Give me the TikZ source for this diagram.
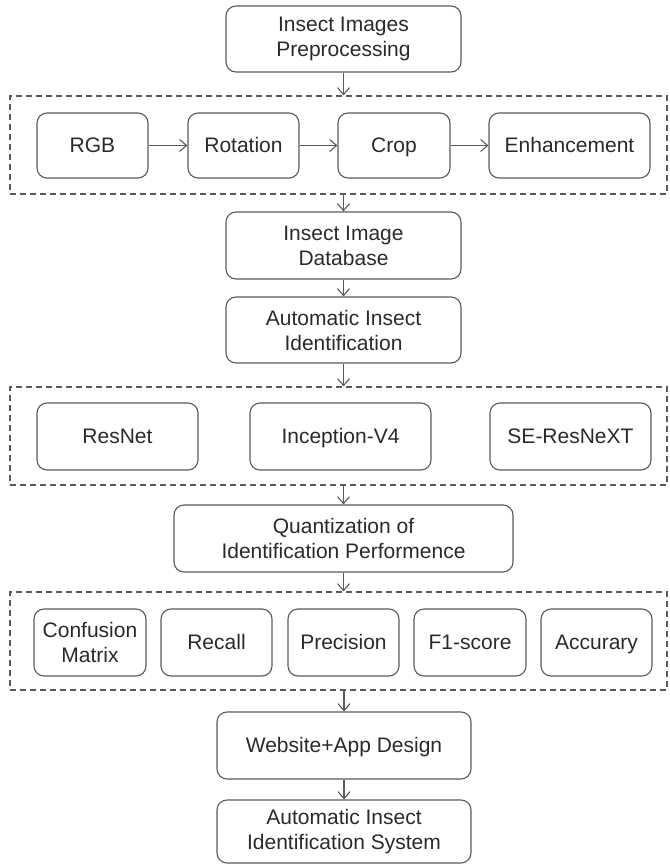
\documentclass[tikz,border=0pt]{standalone}
\usepackage{fontspec}
\setmainfont{Liberation Sans}
\usetikzlibrary{arrows.meta}
\definecolor{linegray}{HTML}{5A5A5A}
\definecolor{textgray}{HTML}{2A2A2A}
\tikzset{
  box/.style={draw=linegray, line width=1.1pt, rounded corners=10pt, align=center,
    inner sep=0pt, text=textgray, font=\fontsize{21}{25}\selectfont},
  single/.style={text height=14pt, text depth=1pt},
  dashbox/.style={draw=linegray, line width=1.1pt, dash pattern=on 6pt off 4pt, inner sep=0pt},
  arr/.style={draw=linegray, line width=1.1pt, -{Straight Barb[length=7pt,width=12pt]}}
}
\begin{document}
\begin{tikzpicture}[x=1pt,y=-1pt]
\useasboundingbox (0,0) rectangle (669,864);
% top
\node[box, minimum width=235pt, minimum height=66pt] (pre) at (343.5,39) {Insect Images\\Preprocessing};
% dashed group 1
\node[dashbox, minimum width=657pt, minimum height=98pt] (d1) at (338.5,145) {};
\node[box, single, minimum width=111pt, minimum height=65pt] (rgb) at (92.5,145.5) {RGB};
\node[box, single, minimum width=111pt, minimum height=65pt] (rot) at (243.5,145.5) {Rotation};
\node[box, single, minimum width=112pt, minimum height=65pt] (crop) at (394,145.5) {Crop};
\node[box, single, minimum width=161pt, minimum height=65pt] (enh) at (569.5,145.5) {Enhancement};
% database
\node[box, minimum width=235pt, minimum height=67pt] (db) at (343.5,245.5) {Insect Image\\Database};
\node[box, minimum width=235pt, minimum height=66pt] (auto) at (343.5,330) {Automatic Insect\\Identification};
% dashed group 2
\node[dashbox, minimum width=657pt, minimum height=98pt] (d2) at (338.5,436) {};
\node[box, single, minimum width=161pt, minimum height=67pt] (resnet) at (117.5,436.5) {ResNet};
\node[box, single, minimum width=181pt, minimum height=67pt] (incep) at (340.5,436.5) {Inception-V4};
\node[box, single, minimum width=161pt, minimum height=67pt] (se) at (570.5,436.5) {SE-ResNeXT};
% quantization
\node[box, minimum width=339pt, minimum height=67pt] (quant) at (343.5,538.5) {Quantization of\\Identification Performence};
% dashed group 3
\node[dashbox, minimum width=657pt, minimum height=98pt] (d3) at (338.5,641) {};
\node[box, minimum width=112pt, minimum height=67pt] (conf) at (90,642.5) {Confusion\\Matrix};
\node[box, single, minimum width=111pt, minimum height=67pt] (recall) at (216.5,642.5) {Recall};
\node[box, single, minimum width=111pt, minimum height=67pt] (prec) at (343.5,642.5) {Precision};
\node[box, single, minimum width=112pt, minimum height=67pt] (f1) at (470,642.5) {F1-score};
\node[box, single, minimum width=111pt, minimum height=67pt] (acc) at (596.5,642.5) {Accurary};
% bottom
\node[box, single, minimum width=254pt, minimum height=67pt] (web) at (344,745.5) {Website+App Design};
\node[box, minimum width=254pt, minimum height=63pt] (sys) at (344,831.5) {Automatic Insect\\Identification System};
% connectors
\draw[arr] (pre.south) -- (pre.south |- d1.north);
\draw[arr] (rgb) -- (rot);
\draw[arr] (rot) -- (crop);
\draw[arr] (crop) -- (enh);
\draw[arr] (d1.south -| db.north) -- (db.north);
\draw[arr] (db.south) -- (auto.north);
\draw[arr] (auto.south) -- (auto.south |- d2.north);
\draw[arr] (d2.south -| quant.north) -- (quant.north);
\draw[arr] (quant.south) -- (quant.south |- d3.north);
\draw[arr] (d3.south -| web.north) -- (web.north);
\draw[arr] (web.south) -- (sys.north);
\end{tikzpicture}
\end{document}
